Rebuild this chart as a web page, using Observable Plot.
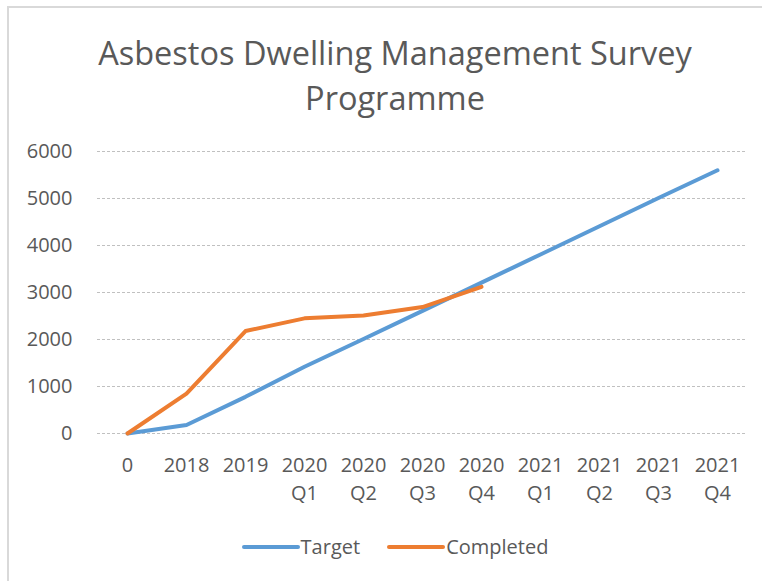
<!DOCTYPE html>
<html><head><meta charset="utf-8">
<script src="https://cdn.jsdelivr.net/npm/d3@7"></script>
<script src="https://cdn.jsdelivr.net/npm/@observablehq/plot@0.6"></script>
<style>
body{margin:0;background:#fff;}
#chart{position:relative;width:762px;height:581px;overflow:hidden;font-family:"Open Sans",sans-serif;color:#595959;}
#frame{position:absolute;left:7px;top:6px;right:-10px;bottom:-10px;border-top:2px solid #d9d9d9;border-left:2px solid #d9d9d9;}
#title{position:absolute;left:0;width:790px;top:30px;text-align:center;font-size:32.5px;line-height:45px;color:#595959;}
#plot{position:absolute;left:0;top:120px;}
#legend{position:absolute;top:533px;left:0;width:790px;display:flex;justify-content:center;align-items:center;font-size:20px;color:#595959;line-height:28px;}
.sw{display:inline-block;width:58px;height:4px;border-radius:2px;}
.item{display:flex;align-items:center;}
</style></head>
<body>
<div id="chart">
  <div id="frame"></div>
  <div id="title">Asbestos Dwelling Management Survey<br>Programme</div>
  <div id="plot"></div>
  <div id="legend"></div>
</div>
<script>
const categories = ["0","2018","2019","2020 Q1","2020 Q2","2020 Q3","2020 Q4","2021 Q1","2021 Q2","2021 Q3","2021 Q4"];
const target = [0,180,780,1420,2010,2610,3210,3810,4410,5010,5600];
const completed = [0,850,2180,2450,2510,2690,3120];
const yTicks = [0,1000,2000,3000,4000,5000,6000];
const seriesNames = ["Target","Completed"];
const seriesColors = ["#5B9BD5","#ED7D31"];

const targetRows = target.map((v,i)=>({category:categories[i], value:v, series:"Target"}));
const completedRows = completed.map((v,i)=>({category:categories[i], value:v, series:"Completed"}));

const font = '"Open Sans",sans-serif';
const chart = Plot.plot({
  width: 762, height: 400,
  marginLeft: 97, marginRight: 15, marginTop: 31, marginBottom: 87,
  style: {fontFamily: font, fontSize: "20px", color: "#595959", background: "transparent", overflow: "visible"},
  x: {type: "point", domain: categories, padding: 0.5, label: null},
  y: {domain: [0, 6000], label: null},
  color: {domain: seriesNames, range: seriesColors},
  marks: [
    Plot.gridY(yTicks, {stroke: "#c0c0c0", strokeOpacity: 1, strokeDasharray: "3,2", strokeWidth: 1}),
    Plot.axisY(yTicks, {tickSize: 0, tickPadding: 25, label: null, fontSize: 20, fill: "#595959", tickFormat: d => String(d)}),
    Plot.axisX({tickSize: 0, tickPadding: 19, label: null, fontSize: 20, fill: "#595959", lineHeight: 1.4, tickFormat: d => d.replace(" ", "\n")}),
    Plot.line(targetRows, {x: "category", y: "value", stroke: "series", strokeWidth: 4, strokeLinecap: "round", strokeLinejoin: "round"}),
    Plot.line(completedRows, {x: "category", y: "value", stroke: "series", strokeWidth: 4, strokeLinecap: "round", strokeLinejoin: "round"})
  ]
});
document.getElementById("plot").appendChild(chart);

const legend = document.getElementById("legend");
seriesNames.forEach((name, i) => {
  const item = document.createElement("div");
  item.className = "item";
  if (i > 0) item.style.marginLeft = "27px";
  const sw = document.createElement("span");
  sw.className = "sw";
  sw.style.background = seriesColors[i];
  const label = document.createElement("span");
  label.textContent = name;
  label.style.marginLeft = "1px";
  item.appendChild(sw); item.appendChild(label);
  legend.appendChild(item);
});
</script>
</body></html>
